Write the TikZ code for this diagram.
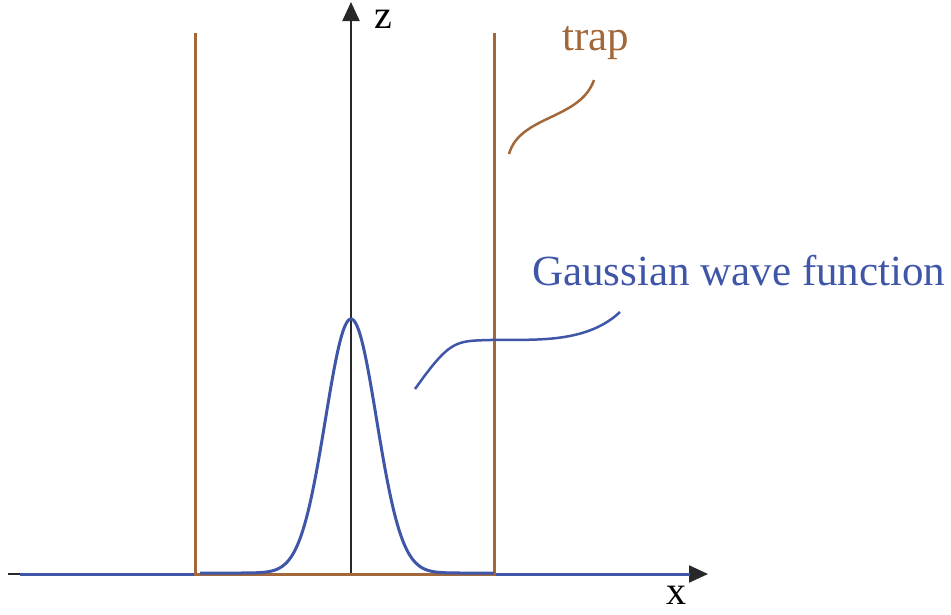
\documentclass[tikz,border=0pt]{standalone}
\usepackage{fontspec}
\setmainfont{Liberation Serif}
\usetikzlibrary{arrows.meta}
\definecolor{trapc}{RGB}{163,104,58}
\definecolor{wavec}{RGB}{63,86,168}
\definecolor{axisc}{RGB}{40,40,40}
\begin{document}
\begin{tikzpicture}[x=1pt,y=-1pt,
  axis/.style={draw=axisc,line width=2.2pt,-{Triangle[length=19pt,width=17pt]}},
  trapline/.style={draw=trapc,line width=3pt},
  waveline/.style={draw=wavec,line width=3pt},
  lbl/.style={inner sep=0pt,font=\fontsize{40}{40}\selectfont}]
\useasboundingbox (0,0) rectangle (951,614);
% axes
\coordinate (xs) at (8,574);
\coordinate (xe) at (708,574);
\coordinate (zs) at (351,574);
\coordinate (ze) at (351,2);
\draw[axis] (xs) -- (xe);
\draw[axis] (zs) -- (ze);
\node[lbl,text=black,anchor=base] (zl) at (383,28) {z};
\node[lbl,text=black,anchor=center] (xl) at (676,595) {x};
% wave baseline
\coordinate (w1) at (20,574);
\coordinate (w2) at (690,574);
\draw[waveline] (w1) -- (w2);
% trap
\coordinate (t1) at (195,33);
\coordinate (t2) at (195,574);
\coordinate (t3) at (494,574);
\coordinate (t4) at (494,33);
\draw[trapline,line join=miter] (t1) -- (t2) -- (t3) -- (t4);
% gaussian
\draw[waveline] plot[domain=200:494,samples=200,smooth] (\x,{573-254*exp(-((\x-351)/25.5)^2/2)});
% labels
\node[lbl,text=trapc,anchor=center,font=\fontsize{43}{43}\selectfont] (trap) at (596,43) {trap};
\node[lbl,text=wavec,anchor=west,font=\fontsize{43}{43}\selectfont] (gauss) at (532,271) {Gaussian wave function};
% leaders
\coordinate (tl1) at (594,80);
\coordinate (tl2) at (509,154);
\draw[trapc,line width=2.5pt] (tl1) .. controls (580,120) and (520,115) .. (tl2);
\coordinate (gl1) at (620,312);
\coordinate (gl2) at (415,389);
\draw[wavec,line width=2.5pt] (gl1) .. controls (585,345) and (530,339) .. (490,340)
  .. controls (455,341) and (450,340) .. (gl2);
\end{tikzpicture}
\end{document}
